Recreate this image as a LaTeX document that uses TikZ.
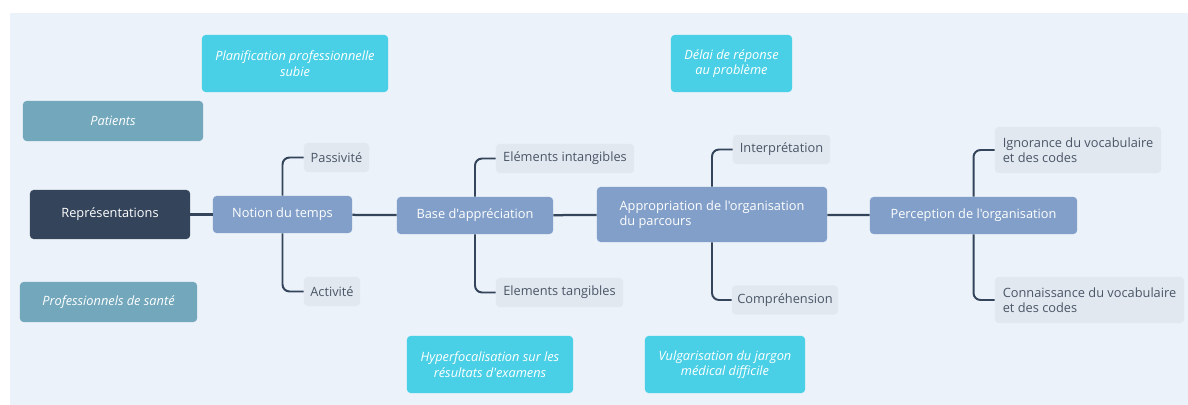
\documentclass[tikz,border=0pt]{standalone}
\usepackage{fontspec}
\setsansfont{Open Sans}[Ligatures=TeXOff]
\usepackage{xcolor}
\definecolor{canvas}{HTML}{EBF2F9}
\definecolor{root}{HTML}{34455B}
\definecolor{topic}{HTML}{819FC8}
\definecolor{leaf}{HTML}{E1E8F0}
\definecolor{leafink}{HTML}{4A5566}
\definecolor{actor}{HTML}{72A7BC}
\definecolor{issue}{HTML}{4AD0E6}
\definecolor{wire}{HTML}{34455B}

\begin{document}
\begin{tikzpicture}[x=0.025cm, y=-0.025cm, font=\sffamily\fontsize{9.1}{11}\selectfont,
    rootbox/.style={fill=root, text=white, rounded corners=2.5pt, minimum width=4cm, minimum height=1.225cm},
    topicbox/.style={fill=topic, text=white, rounded corners=2.5pt, minimum height=0.925cm, align=center},
    leafbox/.style={fill=leaf, text=leafink, rounded corners=2.5pt, minimum height=0.725cm, align=left},
    actorbox/.style={fill=actor, text=white, rounded corners=2.5pt, minimum height=1cm, font=\sffamily\itshape\fontsize{9.1}{11}\selectfont},
    issuebox/.style={fill=issue, text=white, rounded corners=2.5pt, minimum height=1.425cm, align=center, font=\sffamily\itshape\fontsize{9.1}{11}\selectfont},
    link/.style={wire, line width=1.6pt},
    branch/.style={wire, line width=1.4pt, rounded corners=5pt}]

  % canvas
  \fill[white] (0,0) rectangle (1188,405);
  \fill[canvas] (10,13) rectangle (1188,405);

  % root and actors
  \node[rootbox] (rep) at (110,214.5) {Représentations};
  \node[actorbox, minimum width=4.5cm] (pat) at (113,121) {Patients};
  \node[actorbox, minimum width=4.425cm] (pro) at (108.5,302) {Professionnels de santé};

  % main topics
  \node[topicbox, minimum width=3.475cm] (temps) at (282.5,214.5) {Notion du temps};
  \node[topicbox, minimum width=3.9cm] (base) at (475,215.5) {Base d'appréciation};
  \node[topicbox, minimum width=5.75cm, minimum height=1.375cm, align=left] (appro) at (712,214.5) {Appropriation de l'organisation\\du parcours};
  \node[topicbox, minimum width=5.175cm] (percep) at (973.5,215.5) {Perception de l'organisation};

  % leaves
  \node[leafbox, minimum width=1.625cm] (passiv) at (336.5,157.5) {Passivité};
  \node[leafbox, minimum width=1.4cm] (activ) at (332,291.5) {Activité};
  \node[leafbox, minimum width=3.45cm] (intang) at (565,158.5) {Eléments intangibles};
  \node[leafbox, minimum width=3.175cm] (tang) at (559.5,292.5) {Elements tangibles};
  \node[leafbox, minimum width=2.425cm] (interp) at (781.5,149.5) {Interprétation};
  \node[leafbox, minimum width=2.65cm] (compr) at (785,300) {Compréhension};
  \node[leafbox, minimum width=4.15cm, minimum height=1.15cm] (ignor) at (1078,150) {Ignorance du vocabulaire\\et des codes};
  \node[leafbox, minimum width=4.725cm, minimum height=1.15cm] (conn) at (1089.5,300) {Connaissance du vocabulaire\\et des codes};

  % issues
  \node[issuebox, minimum width=4.65cm] (plan) at (295,63.5) {Planification professionnelle\\subie};
  \node[issuebox, minimum width=3.025cm] (delai) at (731.5,63.5) {Délai de réponse\\au problème};
  \node[issuebox, minimum width=4.15cm] (hyper) at (490,364.5) {Hyperfocalisation sur les\\résultats d'examens};
  \node[issuebox, minimum width=4cm] (vulga) at (725,364.5) {Vulgarisation du jargon\\médical difficile};

  % main chain
  \draw[link] (rep) -- (temps);
  \draw[link] (temps) -- (base);
  \draw[link] (base) -- (appro);
  \draw[link] (appro) -- (percep);

  % branches
  \draw[branch] (temps.north) |- (passiv.west);
  \draw[branch] (temps.south) |- (activ.west);
  \draw[branch] (base.north) |- (intang.west);
  \draw[branch] (base.south) |- (tang.west);
  \draw[branch] (appro.north) |- (interp.west);
  \draw[branch] (appro.south) |- (compr.west);
  \draw[branch] (percep.north) |- (ignor.west);
  \draw[branch] (percep.south) |- (conn.west);
\end{tikzpicture}
\end{document}
